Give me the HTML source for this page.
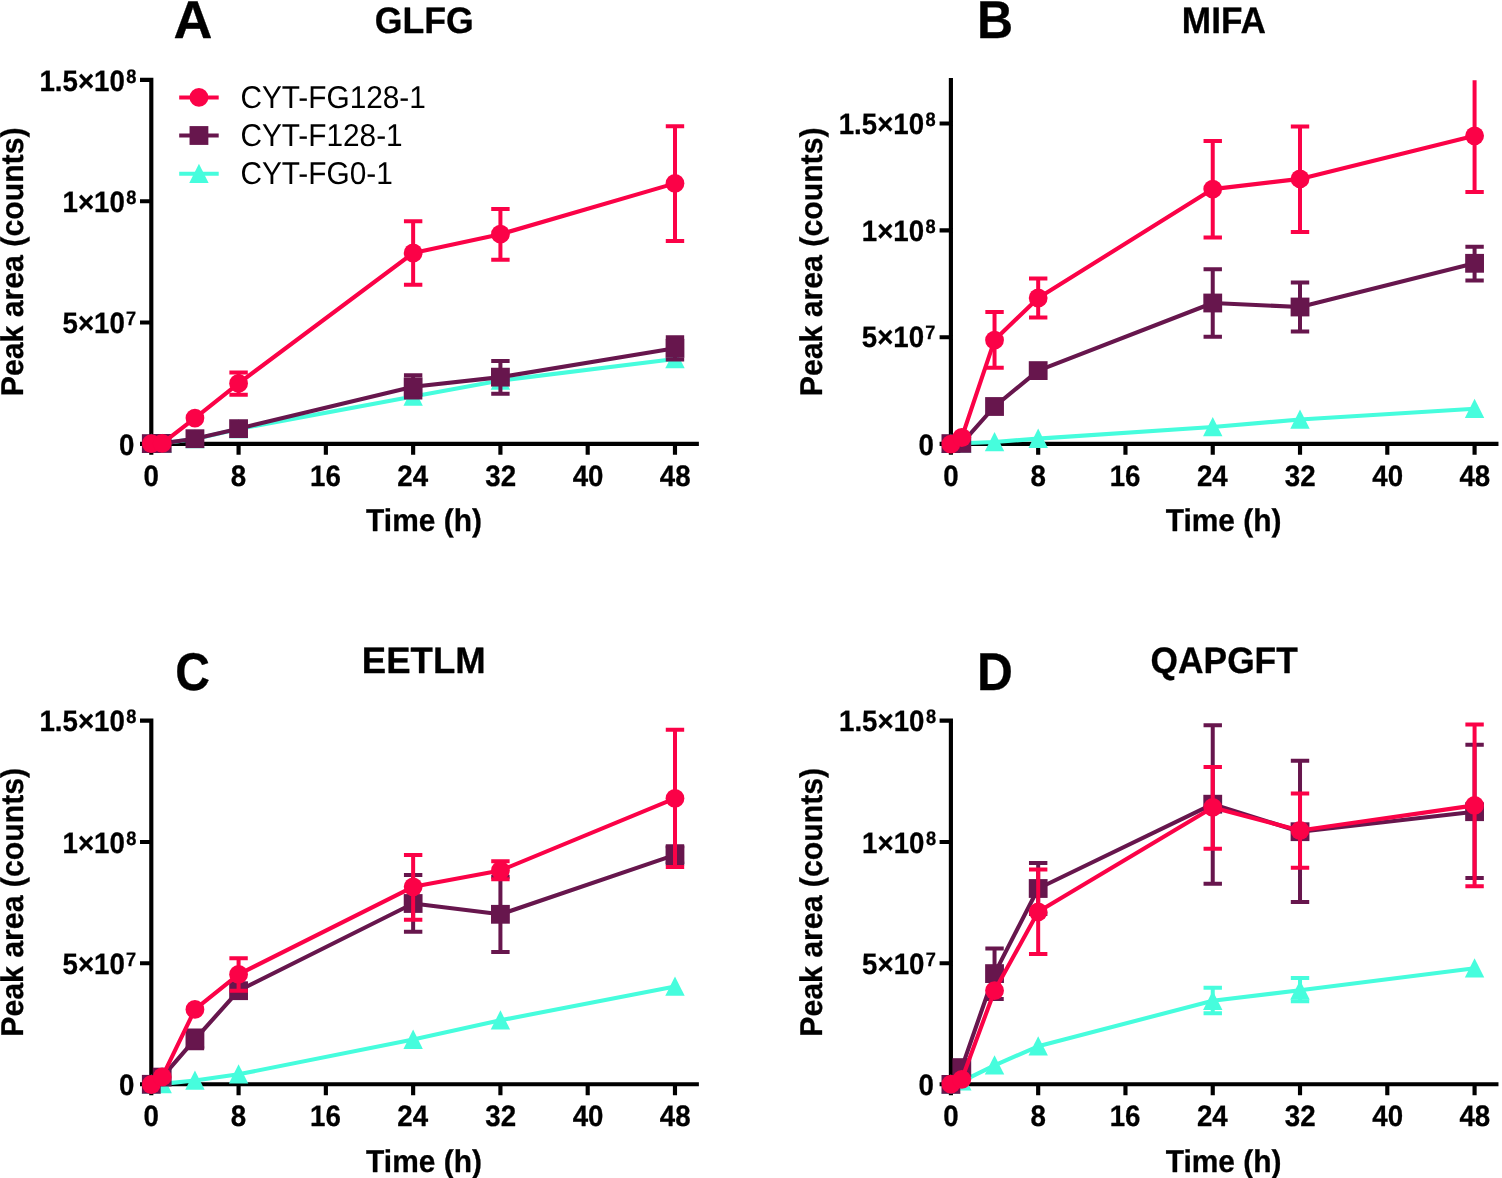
<!DOCTYPE html>
<html lang="en">
<head>
<meta charset="utf-8">
<title>Peptide release time courses</title>
<style>
html,body{margin:0;padding:0;background:#fff;}
body{width:1502px;height:1178px;overflow:hidden;}
svg{display:block;}
text{font-family:"Liberation Sans",Arial,Helvetica,sans-serif;fill:#000;font-kerning:normal;text-rendering:geometricPrecision;}
.b{font-weight:bold;stroke:#000;stroke-width:0.3px;stroke-linejoin:round;}
.r{font-weight:normal;}
</style>
</head>
<body>
<svg width="1502" height="1178" viewBox="0 0 1502 1178">
<rect width="1502" height="1178" fill="#fff"/>
<g id="panel-A">
<path d="M151.3 77.83V445.88M149.23 443.8H698.88M140 443.8H151.3M140 322.5H151.3M140 201.2H151.3M140 79.9H151.3M151.3 443.8V454.7M238.58 443.8V454.7M325.86 443.8V454.7M413.14 443.8V454.7M500.42 443.8V454.7M587.7 443.8V454.7M674.98 443.8V454.7" stroke="#000" stroke-width="4.15" fill="none"/>
<clipPath id="clipA"><rect x="121.3" y="80" width="620" height="405.8"/></clipPath>
<g clip-path="url(#clipA)">
<polyline points="151.3,443.6 162.21,443.4 194.94,439 238.58,429 413.14,396.5 500.42,380.5 674.98,359" fill="none" stroke="#46FDDD" stroke-width="4.1" stroke-linejoin="round"/>
<polygon points="151.3,433.6 161,452.9 141.6,452.9" fill="#46FDDD"/>
<polygon points="162.21,433.4 171.91,452.7 152.51,452.7" fill="#46FDDD"/>
<polygon points="194.94,429 204.64,448.3 185.24,448.3" fill="#46FDDD"/>
<polygon points="238.58,419 248.28,438.3 228.88,438.3" fill="#46FDDD"/>
<polygon points="413.14,386.5 422.84,405.8 403.44,405.8" fill="#46FDDD"/>
<polygon points="500.42,370.5 510.12,389.8 490.72,389.8" fill="#46FDDD"/>
<polygon points="674.98,349 684.68,368.3 665.28,368.3" fill="#46FDDD"/>
</g>
<g clip-path="url(#clipA)">
<path d="M413.14 375.3V397.5M403.94 375.3H422.34M403.94 397.5H422.34M500.42 360.9V393.7M491.22 360.9H509.62M491.22 393.7H509.62M674.98 337.2V359.5M665.78 337.2H684.18M665.78 359.5H684.18" stroke="#67164D" stroke-width="4.0" fill="none"/>
<polyline points="151.3,443.6 162.21,443.4 194.94,438.7 238.58,428.65 413.14,386.8 500.42,377.15 674.98,348.35" fill="none" stroke="#67164D" stroke-width="4.1" stroke-linejoin="round"/>
<rect x="141.9" y="434.2" width="18.8" height="18.8" fill="#67164D"/>
<rect x="152.81" y="434" width="18.8" height="18.8" fill="#67164D"/>
<rect x="185.54" y="429.3" width="18.8" height="18.8" fill="#67164D"/>
<rect x="229.18" y="419.25" width="18.8" height="18.8" fill="#67164D"/>
<rect x="403.74" y="377.4" width="18.8" height="18.8" fill="#67164D"/>
<rect x="491.02" y="367.75" width="18.8" height="18.8" fill="#67164D"/>
<rect x="665.58" y="338.95" width="18.8" height="18.8" fill="#67164D"/>
</g>
<g clip-path="url(#clipA)">
<path d="M238.58 372.4V394.7M229.38 372.4H247.78M229.38 394.7H247.78M413.14 221.2V284.8M403.94 221.2H422.34M403.94 284.8H422.34M500.42 208.9V259.8M491.22 208.9H509.62M491.22 259.8H509.62M674.98 126.3V241M665.78 126.3H684.18M665.78 241H684.18" stroke="#FB0247" stroke-width="4.0" fill="none"/>
<polyline points="151.3,443.6 162.21,443.4 194.94,418.1 238.58,383.4 413.14,253 500.42,234.2 674.98,183.4" fill="none" stroke="#FB0247" stroke-width="4.1" stroke-linejoin="round"/>
<circle cx="151.3" cy="443.6" r="9.4" fill="#FB0247"/>
<circle cx="162.21" cy="443.4" r="9.4" fill="#FB0247"/>
<circle cx="194.94" cy="418.1" r="9.4" fill="#FB0247"/>
<circle cx="238.58" cy="383.4" r="9.4" fill="#FB0247"/>
<circle cx="413.14" cy="253" r="9.4" fill="#FB0247"/>
<circle cx="500.42" cy="234.2" r="9.4" fill="#FB0247"/>
<circle cx="674.98" cy="183.4" r="9.4" fill="#FB0247"/>
</g>
<text transform="translate(118.93 455) scale(0.9358 1)" class="b" font-size="29.6">0</text>
<text transform="translate(62.49 333) scale(0.9358 1)" class="b" font-size="29.6">5×10<tspan x="67.99" dy="-8" font-size="19.45">7</tspan></text>
<text transform="translate(62.49 212) scale(0.9358 1)" class="b" font-size="29.6">1×10<tspan x="68.21" dy="-8" font-size="19.45">8</tspan></text>
<text transform="translate(39.39 91) scale(0.9358 1)" class="b" font-size="29.6">1.5×10<tspan x="92.89" dy="-8" font-size="19.45">8</tspan></text>
<text transform="translate(143.62 486) scale(0.9358 1)" class="b" font-size="29.6">0</text>
<text transform="translate(230.86 486) scale(0.9358 1)" class="b" font-size="29.6">8</text>
<text transform="translate(310.08 486) scale(0.9358 1)" class="b" font-size="29.6">16</text>
<text transform="translate(397.33 486) scale(0.9358 1)" class="b" font-size="29.6">24</text>
<text transform="translate(485.25 486) scale(0.9358 1)" class="b" font-size="29.6">32</text>
<text transform="translate(572.65 486) scale(0.9358 1)" class="b" font-size="29.6">40</text>
<text transform="translate(659.79 486) scale(0.9358 1)" class="b" font-size="29.6">48</text>
<text transform="translate(366.11 531) scale(0.9506 1)" class="b" font-size="31.48">Time (h)</text>
<text transform="translate(23 396.27) rotate(-90) scale(0.9606 1)" class="b" font-size="31.48">Peak area (counts)</text>
<text transform="translate(374.69 33) scale(0.9710 1)" class="b" font-size="36.74">GLFG</text>
<text transform="translate(173.46 38) scale(1.0157 1)" class="b" font-size="53.05">A</text>
</g>
<g id="legend">
<path d="M179.2 97.45H218.7" stroke="#FB0247" stroke-width="4.1"/>
<circle cx="198.95" cy="97.45" r="9.4" fill="#FB0247"/>
<text transform="translate(240.39 108) scale(0.9460 1)" class="r" font-size="31.5">CYT-FG128-1</text>
<path d="M179.2 135.5H218.7" stroke="#67164D" stroke-width="4.1"/>
<rect x="189.55" y="126.1" width="18.8" height="18.8" fill="#67164D"/>
<text transform="translate(240.39 146) scale(0.9460 1)" class="r" font-size="31.5">CYT-F128-1</text>
<path d="M179.2 173.7H218.7" stroke="#46FDDD" stroke-width="4.1"/>
<polygon points="198.95,163.7 208.65,183 189.25,183" fill="#46FDDD"/>
<text transform="translate(240.39 184) scale(0.9460 1)" class="r" font-size="31.5">CYT-FG0-1</text>
</g>
<g id="panel-B">
<path d="M950.9 78V445.88M948.82 443.8H1498.48M939.6 443.8H950.9M939.6 337.25H950.9M939.6 230.35H950.9M939.6 123.45H950.9M950.9 443.8V454.7M1038.18 443.8V454.7M1125.46 443.8V454.7M1212.74 443.8V454.7M1300.02 443.8V454.7M1387.3 443.8V454.7M1474.58 443.8V454.7" stroke="#000" stroke-width="4.15" fill="none"/>
<clipPath id="clipB"><rect x="920.9" y="80.35" width="620" height="405.45"/></clipPath>
<g clip-path="url(#clipB)">
<polyline points="950.9,443.6 961.81,443.2 994.54,442 1038.18,438.6 1212.74,427 1300.02,419.5 1474.58,408.7" fill="none" stroke="#46FDDD" stroke-width="4.1" stroke-linejoin="round"/>
<polygon points="950.9,433.6 960.6,452.9 941.2,452.9" fill="#46FDDD"/>
<polygon points="961.81,433.2 971.51,452.5 952.11,452.5" fill="#46FDDD"/>
<polygon points="994.54,432 1004.24,451.3 984.84,451.3" fill="#46FDDD"/>
<polygon points="1038.18,428.6 1047.88,447.9 1028.48,447.9" fill="#46FDDD"/>
<polygon points="1212.74,417 1222.44,436.3 1203.04,436.3" fill="#46FDDD"/>
<polygon points="1300.02,409.5 1309.72,428.8 1290.32,428.8" fill="#46FDDD"/>
<polygon points="1474.58,398.7 1484.28,418 1464.88,418" fill="#46FDDD"/>
</g>
<g clip-path="url(#clipB)">
<path d="M1212.74 269.3V336.8M1203.54 269.3H1221.94M1203.54 336.8H1221.94M1300.02 282.6V331.6M1290.82 282.6H1309.22M1290.82 331.6H1309.22M1474.58 246.7V280.5M1465.38 246.7H1483.78M1465.38 280.5H1483.78" stroke="#67164D" stroke-width="4.0" fill="none"/>
<polyline points="950.9,443.6 961.81,443.4 994.54,406.5 1038.18,370.6 1212.74,303 1300.02,307 1474.58,263.3" fill="none" stroke="#67164D" stroke-width="4.1" stroke-linejoin="round"/>
<rect x="941.5" y="434.2" width="18.8" height="18.8" fill="#67164D"/>
<rect x="952.41" y="434" width="18.8" height="18.8" fill="#67164D"/>
<rect x="985.14" y="397.1" width="18.8" height="18.8" fill="#67164D"/>
<rect x="1028.78" y="361.2" width="18.8" height="18.8" fill="#67164D"/>
<rect x="1203.34" y="293.6" width="18.8" height="18.8" fill="#67164D"/>
<rect x="1290.62" y="297.6" width="18.8" height="18.8" fill="#67164D"/>
<rect x="1465.18" y="253.9" width="18.8" height="18.8" fill="#67164D"/>
</g>
<g clip-path="url(#clipB)">
<path d="M994.54 312V367.7M985.34 312H1003.74M985.34 367.7H1003.74M1038.18 278.4V317.6M1028.98 278.4H1047.38M1028.98 317.6H1047.38M1212.74 141V237.5M1203.54 141H1221.94M1203.54 237.5H1221.94M1300.02 126.5V232M1290.82 126.5H1309.22M1290.82 232H1309.22M1474.58 60V192.1M1465.38 60H1483.78M1465.38 192.1H1483.78" stroke="#FB0247" stroke-width="4.0" fill="none"/>
<polyline points="950.9,444.1 961.81,437.5 994.54,340.1 1038.18,298 1212.74,189.1 1300.02,178.9 1474.58,135.8" fill="none" stroke="#FB0247" stroke-width="4.1" stroke-linejoin="round"/>
<circle cx="950.9" cy="444.1" r="9.4" fill="#FB0247"/>
<circle cx="961.81" cy="437.5" r="9.4" fill="#FB0247"/>
<circle cx="994.54" cy="340.1" r="9.4" fill="#FB0247"/>
<circle cx="1038.18" cy="298" r="9.4" fill="#FB0247"/>
<circle cx="1212.74" cy="189.1" r="9.4" fill="#FB0247"/>
<circle cx="1300.02" cy="178.9" r="9.4" fill="#FB0247"/>
<circle cx="1474.58" cy="135.8" r="9.4" fill="#FB0247"/>
</g>
<text transform="translate(918.53 455) scale(0.9358 1)" class="b" font-size="29.6">0</text>
<text transform="translate(861.74 347) scale(0.9358 1)" class="b" font-size="29.6">5×10<tspan x="67.99" dy="-8" font-size="19.45">7</tspan></text>
<text transform="translate(861.74 241) scale(0.9358 1)" class="b" font-size="29.6">1×10<tspan x="68.21" dy="-8" font-size="19.45">8</tspan></text>
<text transform="translate(838.64 134) scale(0.9358 1)" class="b" font-size="29.6">1.5×10<tspan x="92.89" dy="-8" font-size="19.45">8</tspan></text>
<text transform="translate(943.22 486) scale(0.9358 1)" class="b" font-size="29.6">0</text>
<text transform="translate(1030.46 486) scale(0.9358 1)" class="b" font-size="29.6">8</text>
<text transform="translate(1109.68 486) scale(0.9358 1)" class="b" font-size="29.6">16</text>
<text transform="translate(1196.93 486) scale(0.9358 1)" class="b" font-size="29.6">24</text>
<text transform="translate(1284.85 486) scale(0.9358 1)" class="b" font-size="29.6">32</text>
<text transform="translate(1372.25 486) scale(0.9358 1)" class="b" font-size="29.6">40</text>
<text transform="translate(1459.39 486) scale(0.9358 1)" class="b" font-size="29.6">48</text>
<text transform="translate(1165.71 531) scale(0.9506 1)" class="b" font-size="31.48">Time (h)</text>
<text transform="translate(822 396.27) rotate(-90) scale(0.9606 1)" class="b" font-size="31.48">Peak area (counts)</text>
<text transform="translate(1181.86 33) scale(0.9582 1)" class="b" font-size="36.74">MIFA</text>
<text transform="translate(977.08 38) scale(0.9414 1)" class="b" font-size="53.05">B</text>
</g>
<g id="panel-C">
<path d="M151.3 718.45V1086.33M149.23 1084.25H698.88M140 1084.25H151.3M140 963.25H151.3M140 841.95H151.3M140 720.65H151.3M151.3 1084.25V1095.15M238.58 1084.25V1095.15M325.86 1084.25V1095.15M413.14 1084.25V1095.15M500.42 1084.25V1095.15M587.7 1084.25V1095.15M674.98 1084.25V1095.15" stroke="#000" stroke-width="4.15" fill="none"/>
<clipPath id="clipC"><rect x="121.3" y="720.75" width="620" height="405.5"/></clipPath>
<g clip-path="url(#clipC)">
<polyline points="151.3,1084.2 162.21,1083.9 194.94,1080.5 238.58,1074.3 413.14,1039.6 500.42,1020.3 674.98,986.5" fill="none" stroke="#46FDDD" stroke-width="4.1" stroke-linejoin="round"/>
<polygon points="151.3,1074.2 161,1093.5 141.6,1093.5" fill="#46FDDD"/>
<polygon points="162.21,1073.9 171.91,1093.2 152.51,1093.2" fill="#46FDDD"/>
<polygon points="194.94,1070.5 204.64,1089.8 185.24,1089.8" fill="#46FDDD"/>
<polygon points="238.58,1064.3 248.28,1083.6 228.88,1083.6" fill="#46FDDD"/>
<polygon points="413.14,1029.6 422.84,1048.9 403.44,1048.9" fill="#46FDDD"/>
<polygon points="500.42,1010.3 510.12,1029.6 490.72,1029.6" fill="#46FDDD"/>
<polygon points="674.98,976.5 684.68,995.8 665.28,995.8" fill="#46FDDD"/>
</g>
<g clip-path="url(#clipC)">
<path d="M194.94 1030.4V1048.2M185.74 1030.4H204.14M185.74 1048.2H204.14M413.14 875V931.8M403.94 875H422.34M403.94 931.8H422.34M500.42 876.8V952.1M491.22 876.8H509.62M491.22 952.1H509.62M674.98 846.3V863.5M665.78 846.3H684.18M665.78 863.5H684.18" stroke="#67164D" stroke-width="4.0" fill="none"/>
<polyline points="151.3,1084.3 162.21,1077.1 194.94,1039.3 238.58,990.7 413.14,903.5 500.42,914.3 674.98,854.9" fill="none" stroke="#67164D" stroke-width="4.1" stroke-linejoin="round"/>
<rect x="141.9" y="1074.9" width="18.8" height="18.8" fill="#67164D"/>
<rect x="152.81" y="1067.7" width="18.8" height="18.8" fill="#67164D"/>
<rect x="185.54" y="1029.9" width="18.8" height="18.8" fill="#67164D"/>
<rect x="229.18" y="981.3" width="18.8" height="18.8" fill="#67164D"/>
<rect x="403.74" y="894.1" width="18.8" height="18.8" fill="#67164D"/>
<rect x="491.02" y="904.9" width="18.8" height="18.8" fill="#67164D"/>
<rect x="665.58" y="845.5" width="18.8" height="18.8" fill="#67164D"/>
</g>
<g clip-path="url(#clipC)">
<path d="M238.58 958.2V990.7M229.38 958.2H247.78M229.38 990.7H247.78M413.14 855V919.8M403.94 855H422.34M403.94 919.8H422.34M500.42 861.3V879.3M491.22 861.3H509.62M491.22 879.3H509.62M674.98 729.8V867M665.78 729.8H684.18M665.78 867H684.18" stroke="#FB0247" stroke-width="4.0" fill="none"/>
<polyline points="151.3,1084.5 162.21,1076.9 194.94,1009.4 238.58,974.4 413.14,886.8 500.42,870.5 674.98,798.4" fill="none" stroke="#FB0247" stroke-width="4.1" stroke-linejoin="round"/>
<circle cx="151.3" cy="1084.5" r="9.4" fill="#FB0247"/>
<circle cx="162.21" cy="1076.9" r="9.4" fill="#FB0247"/>
<circle cx="194.94" cy="1009.4" r="9.4" fill="#FB0247"/>
<circle cx="238.58" cy="974.4" r="9.4" fill="#FB0247"/>
<circle cx="413.14" cy="886.8" r="9.4" fill="#FB0247"/>
<circle cx="500.42" cy="870.5" r="9.4" fill="#FB0247"/>
<circle cx="674.98" cy="798.4" r="9.4" fill="#FB0247"/>
</g>
<text transform="translate(118.93 1095) scale(0.9358 1)" class="b" font-size="29.6">0</text>
<text transform="translate(62.49 974) scale(0.9358 1)" class="b" font-size="29.6">5×10<tspan x="67.99" dy="-8" font-size="19.45">7</tspan></text>
<text transform="translate(62.49 853) scale(0.9358 1)" class="b" font-size="29.6">1×10<tspan x="68.21" dy="-8" font-size="19.45">8</tspan></text>
<text transform="translate(39.39 731) scale(0.9358 1)" class="b" font-size="29.6">1.5×10<tspan x="92.89" dy="-8" font-size="19.45">8</tspan></text>
<text transform="translate(143.62 1126) scale(0.9358 1)" class="b" font-size="29.6">0</text>
<text transform="translate(230.86 1126) scale(0.9358 1)" class="b" font-size="29.6">8</text>
<text transform="translate(310.08 1126) scale(0.9358 1)" class="b" font-size="29.6">16</text>
<text transform="translate(397.33 1126) scale(0.9358 1)" class="b" font-size="29.6">24</text>
<text transform="translate(485.25 1126) scale(0.9358 1)" class="b" font-size="29.6">32</text>
<text transform="translate(572.65 1126) scale(0.9358 1)" class="b" font-size="29.6">40</text>
<text transform="translate(659.79 1126) scale(0.9358 1)" class="b" font-size="29.6">48</text>
<text transform="translate(366.11 1172) scale(0.9506 1)" class="b" font-size="31.48">Time (h)</text>
<text transform="translate(23 1036.72) rotate(-90) scale(0.9606 1)" class="b" font-size="31.48">Peak area (counts)</text>
<text transform="translate(361.83 673) scale(0.9953 1)" class="b" font-size="36.74">EETLM</text>
<text transform="translate(175.19 690) scale(0.9050 1)" class="b" font-size="53.05">C</text>
</g>
<g id="panel-D">
<path d="M950.9 718.45V1086.33M948.82 1084.25H1498.48M939.6 1084.25H950.9M939.6 963.25H950.9M939.6 841.95H950.9M939.6 720.65H950.9M950.9 1084.25V1095.15M1038.18 1084.25V1095.15M1125.46 1084.25V1095.15M1212.74 1084.25V1095.15M1300.02 1084.25V1095.15M1387.3 1084.25V1095.15M1474.58 1084.25V1095.15" stroke="#000" stroke-width="4.15" fill="none"/>
<clipPath id="clipD"><rect x="920.9" y="720.75" width="620" height="405.5"/></clipPath>
<g clip-path="url(#clipD)">
<path d="M1212.74 987.7V1013.3M1203.54 987.7H1221.94M1203.54 1013.3H1221.94M1300.02 977.9V1001.3M1290.82 977.9H1309.22M1290.82 1001.3H1309.22" stroke="#46FDDD" stroke-width="4.0" fill="none"/>
<polyline points="950.9,1084.2 961.81,1081.3 994.54,1065.3 1038.18,1046.3 1212.74,1000.7 1300.02,990.2 1474.58,968.2" fill="none" stroke="#46FDDD" stroke-width="4.1" stroke-linejoin="round"/>
<polygon points="950.9,1074.2 960.6,1093.5 941.2,1093.5" fill="#46FDDD"/>
<polygon points="961.81,1071.3 971.51,1090.6 952.11,1090.6" fill="#46FDDD"/>
<polygon points="994.54,1055.3 1004.24,1074.6 984.84,1074.6" fill="#46FDDD"/>
<polygon points="1038.18,1036.3 1047.88,1055.6 1028.48,1055.6" fill="#46FDDD"/>
<polygon points="1212.74,990.7 1222.44,1010 1203.04,1010" fill="#46FDDD"/>
<polygon points="1300.02,980.2 1309.72,999.5 1290.32,999.5" fill="#46FDDD"/>
<polygon points="1474.58,958.2 1484.28,977.5 1464.88,977.5" fill="#46FDDD"/>
</g>
<g clip-path="url(#clipD)">
<path d="M994.54 948.5V999.1M985.34 948.5H1003.74M985.34 999.1H1003.74M1038.18 863V914M1028.98 863H1047.38M1028.98 914H1047.38M1212.74 725.3V883.8M1203.54 725.3H1221.94M1203.54 883.8H1221.94M1300.02 760.8V902M1290.82 760.8H1309.22M1290.82 902H1309.22M1474.58 744.8V878.1M1465.38 744.8H1483.78M1465.38 878.1H1483.78" stroke="#67164D" stroke-width="4.0" fill="none"/>
<polyline points="950.9,1084.4 961.81,1067.6 994.54,973.6 1038.18,888.5 1212.74,804.2 1300.02,831.7 1474.58,811.7" fill="none" stroke="#67164D" stroke-width="4.1" stroke-linejoin="round"/>
<rect x="941.5" y="1075" width="18.8" height="18.8" fill="#67164D"/>
<rect x="952.41" y="1058.2" width="18.8" height="18.8" fill="#67164D"/>
<rect x="985.14" y="964.2" width="18.8" height="18.8" fill="#67164D"/>
<rect x="1028.78" y="879.1" width="18.8" height="18.8" fill="#67164D"/>
<rect x="1203.34" y="794.8" width="18.8" height="18.8" fill="#67164D"/>
<rect x="1290.62" y="822.3" width="18.8" height="18.8" fill="#67164D"/>
<rect x="1465.18" y="802.3" width="18.8" height="18.8" fill="#67164D"/>
</g>
<g clip-path="url(#clipD)">
<path d="M1038.18 869.5V953.9M1028.98 869.5H1047.38M1028.98 953.9H1047.38M1212.74 767.1V848.7M1203.54 767.1H1221.94M1203.54 848.7H1221.94M1300.02 793.6V867.8M1290.82 793.6H1309.22M1290.82 867.8H1309.22M1474.58 724.5V886.3M1465.38 724.5H1483.78M1465.38 886.3H1483.78" stroke="#FB0247" stroke-width="4.0" fill="none"/>
<polyline points="950.9,1084.1 961.81,1079.3 994.54,990.7 1038.18,911.8 1212.74,807.4 1300.02,830.5 1474.58,805.4" fill="none" stroke="#FB0247" stroke-width="4.1" stroke-linejoin="round"/>
<circle cx="950.9" cy="1084.1" r="9.4" fill="#FB0247"/>
<circle cx="961.81" cy="1079.3" r="9.4" fill="#FB0247"/>
<circle cx="994.54" cy="990.7" r="9.4" fill="#FB0247"/>
<circle cx="1038.18" cy="911.8" r="9.4" fill="#FB0247"/>
<circle cx="1212.74" cy="807.4" r="9.4" fill="#FB0247"/>
<circle cx="1300.02" cy="830.5" r="9.4" fill="#FB0247"/>
<circle cx="1474.58" cy="805.4" r="9.4" fill="#FB0247"/>
</g>
<text transform="translate(918.53 1095) scale(0.9358 1)" class="b" font-size="29.6">0</text>
<text transform="translate(862.09 974) scale(0.9358 1)" class="b" font-size="29.6">5×10<tspan x="67.99" dy="-8" font-size="19.45">7</tspan></text>
<text transform="translate(862.09 853) scale(0.9358 1)" class="b" font-size="29.6">1×10<tspan x="68.21" dy="-8" font-size="19.45">8</tspan></text>
<text transform="translate(838.99 731) scale(0.9358 1)" class="b" font-size="29.6">1.5×10<tspan x="92.89" dy="-8" font-size="19.45">8</tspan></text>
<text transform="translate(943.22 1126) scale(0.9358 1)" class="b" font-size="29.6">0</text>
<text transform="translate(1030.46 1126) scale(0.9358 1)" class="b" font-size="29.6">8</text>
<text transform="translate(1109.68 1126) scale(0.9358 1)" class="b" font-size="29.6">16</text>
<text transform="translate(1196.93 1126) scale(0.9358 1)" class="b" font-size="29.6">24</text>
<text transform="translate(1284.85 1126) scale(0.9358 1)" class="b" font-size="29.6">32</text>
<text transform="translate(1372.25 1126) scale(0.9358 1)" class="b" font-size="29.6">40</text>
<text transform="translate(1459.39 1126) scale(0.9358 1)" class="b" font-size="29.6">48</text>
<text transform="translate(1165.71 1172) scale(0.9506 1)" class="b" font-size="31.48">Time (h)</text>
<text transform="translate(822 1036.72) rotate(-90) scale(0.9606 1)" class="b" font-size="31.48">Peak area (counts)</text>
<text transform="translate(1150.58 673) scale(0.9617 1)" class="b" font-size="36.74">QAPGFT</text>
<text transform="translate(977.1 690) scale(0.9362 1)" class="b" font-size="53.05">D</text>
</g>
</svg>
</body>
</html>
